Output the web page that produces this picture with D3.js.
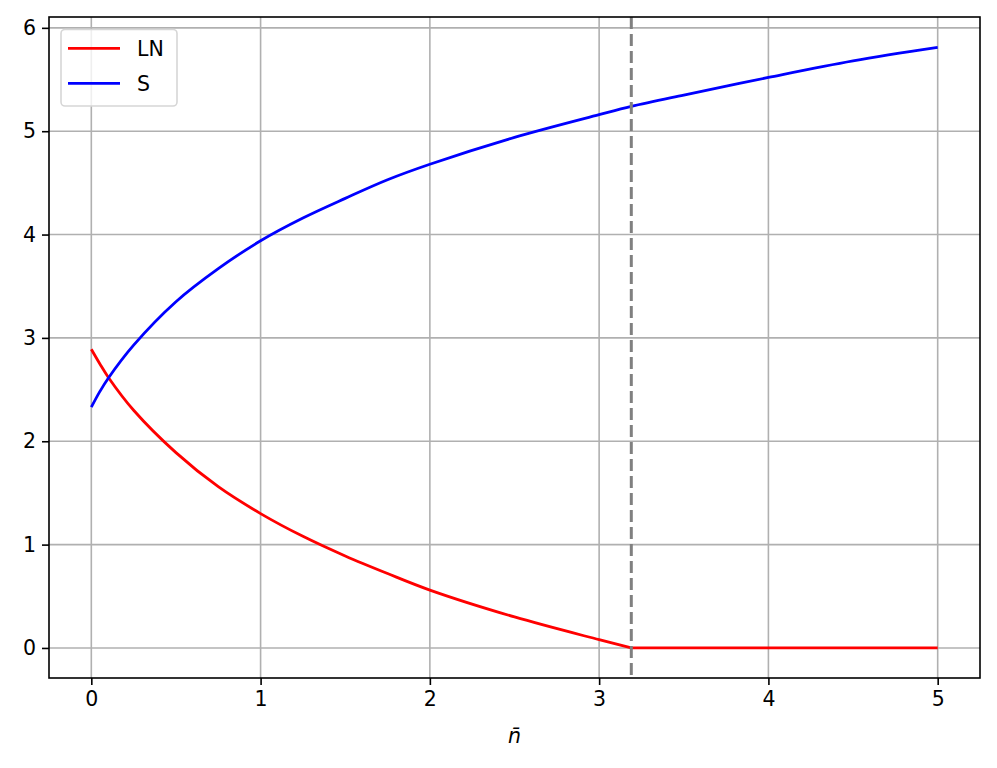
<!DOCTYPE html>
<html>
<head>
<meta charset="utf-8">
<script src="https://cdn.jsdelivr.net/npm/d3@7"></script>
<style>
  html, body { margin: 0; padding: 0; background: #fff; }
  svg { display: block; }
  text { font-family: "DejaVu Sans", sans-serif; }
</style>
</head>
<body>
<svg id="chart" width="997" height="768"></svg>
<script>
// ---- data ----
const nBar   = [0, 0.05, 0.1, 0.25, 0.5, 0.75, 1, 1.25, 1.5, 1.75, 2, 2.5, 3, 3.19, 3.5, 4, 4.5, 5];
const LN     = [2.89, 2.75, 2.62, 2.30, 1.89, 1.56, 1.30, 1.08, 0.89, 0.72, 0.56, 0.30, 0.08, 0.00, 0.00, 0.00, 0.00, 0.00];
const S      = [2.33, 2.48, 2.61, 2.93, 3.35, 3.67, 3.94, 4.16, 4.35, 4.53, 4.68, 4.94, 5.16, 5.24, 5.35, 5.52, 5.68, 5.81];
const vLineX = 3.19;
const xTicks = [0, 1, 2, 3, 4, 5];
const yTicks = [0, 1, 2, 3, 4, 5, 6];
const seriesNames  = ["LN", "S"];
const seriesColors = ["#ff0000", "#0000ff"];

// ---- layout ----
const svg = d3.select("#chart");
const L = 49, R = 980, T = 17, B = 678;

const x = d3.scaleLinear().domain([-0.25, 5.25]).range([L, R]);
const y = d3.scaleLinear().domain([-0.2907, 6.105]).range([B, T]);

// grid
const grid = svg.append("g");
grid.selectAll("line.gx").data(xTicks).enter().append("line")
  .attr("x1", d => x(d)).attr("x2", d => x(d)).attr("y1", T).attr("y2", B)
  .attr("stroke", "#b0b0b0").attr("stroke-width", 1.6);
grid.selectAll("line.gy").data(yTicks).enter().append("line")
  .attr("y1", d => y(d)).attr("y2", d => y(d)).attr("x1", L).attr("x2", R)
  .attr("stroke", "#b0b0b0").attr("stroke-width", 1.6);

// series: split each series into a curved part and the flat zero tail
const series = [LN, S];
const line = d3.line()
  .x(d => x(d[0]))
  .y(d => y(d[1]))
  .curve(d3.curveCatmullRom.alpha(0.5));

const clip = svg.append("clipPath").attr("id", "clip")
  .append("rect").attr("x", L).attr("y", T).attr("width", R - L).attr("height", B - T);

const plot = svg.append("g").attr("clip-path", "url(#clip)");
series.forEach((vals, k) => {
  const pts = vals.map((v, i) => [nBar[i], v]);
  let cut = pts.findIndex(p => p[1] === 0);
  const parts = cut > 0 ? [pts.slice(0, cut + 1), pts.slice(cut)] : [pts];
  const path = parts.map(p => line(p)).join("");
  plot.append("path")
    .attr("d", path)
    .attr("fill", "none")
    .attr("stroke", seriesColors[k])
    .attr("stroke-width", 2.8)
    .attr("stroke-linejoin", "round")
    .attr("stroke-linecap", "butt");
});

// vertical dashed line
plot.append("line")
  .attr("x1", x(vLineX)).attr("x2", x(vLineX))
  .attr("y1", T).attr("y2", B)
  .attr("stroke", "#808080").attr("stroke-width", 3)
  .attr("stroke-dasharray", "12,5");

// axes
const xAxis = d3.axisBottom(x).tickValues(xTicks).tickSize(7).tickPadding(6).tickFormat(d3.format("d"));
const yAxis = d3.axisLeft(y).tickValues(yTicks).tickSize(7).tickPadding(6).tickFormat(d3.format("d"));

const gx = svg.append("g").attr("transform", `translate(0,${B})`).call(xAxis);
const gy = svg.append("g").attr("transform", `translate(${L},0)`).call(yAxis);
[gx, gy].forEach(g => {
  g.select(".domain").remove();
  g.selectAll(".tick line").attr("stroke", "#000").attr("stroke-width", 1.6);
  g.selectAll(".tick text").attr("fill", "#000").style("font-size", "20.5px")
    .style("font-family", "'DejaVu Sans', sans-serif");
});

// spines
svg.append("rect")
  .attr("x", L).attr("y", T).attr("width", R - L).attr("height", B - T)
  .attr("fill", "none").attr("stroke", "#000").attr("stroke-width", 1.6);

// x label
svg.append("text")
  .attr("x", (L + R) / 2).attr("y", 743)
  .attr("text-anchor", "middle")
  .style("font-size", "20.5px").style("font-style", "italic")
  .text("n\u0304");

// legend
const lg = svg.append("g");
lg.append("rect")
  .attr("x", 61).attr("y", 29.5).attr("width", 116).attr("height", 76.5)
  .attr("rx", 4).attr("ry", 4)
  .attr("fill", "#fff").attr("fill-opacity", 0.8)
  .attr("stroke", "#d6d6d6").attr("stroke-width", 1.6);
seriesNames.forEach((name, k) => {
  const yy = 48.3 + k * 35;
  lg.append("line")
    .attr("x1", 68).attr("x2", 120).attr("y1", yy).attr("y2", yy)
    .attr("stroke", seriesColors[k]).attr("stroke-width", 2.8);
  lg.append("text")
    .attr("x", 137).attr("y", yy + 7.5)
    .style("font-size", "20.5px")
    .text(name);
});
</script>
</body>
</html>
